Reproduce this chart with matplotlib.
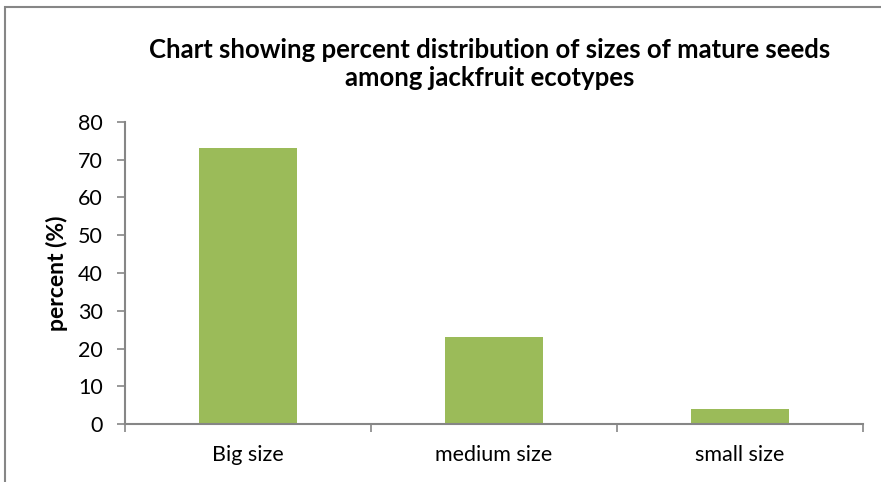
import matplotlib
matplotlib.use("Agg")
import matplotlib.pyplot as plt
from matplotlib.patches import Rectangle

categories = ["Big size", "medium size", "small size"]
percent = [73, 23, 4]
y_ticks = [0, 10, 20, 30, 40, 50, 60, 70, 80]

plt.rcParams["font.family"] = ["Lato", "DejaVu Sans"]
grey = "#868686"

fig = plt.figure(figsize=(8.81, 4.82), dpi=100)
ax = fig.add_axes([0.1419, 0.1203, 0.8377, 0.6266])

x = range(len(categories))
ax.bar(x, percent, width=0.4, color="#9BBB59")

ax.set_xlim(-0.5, len(categories) - 0.5)
ax.set_ylim(0, 80)
ax.set_yticks(y_ticks)
ax.set_xticks(list(x))
ax.set_xticklabels(categories, fontsize=15.5)
ax.set_xticks([-0.5, 0.5, 1.5, 2.5], minor=True)
ax.tick_params(axis="x", which="major", length=0, pad=15)
ax.tick_params(axis="x", which="minor", length=6, color=grey, width=1.2)
ax.tick_params(axis="y", length=6, color=grey, width=1.2, labelsize=15.5, pad=10)

for side in ["top", "right"]:
    ax.spines[side].set_visible(False)
for side in ["left", "bottom"]:
    ax.spines[side].set_color(grey)
    ax.spines[side].set_linewidth(1.5)

ax.set_ylabel("percent (%)", fontsize=16.5, fontweight="bold", labelpad=7)

fig.text(0.556, 0.867, "Chart showing percent distribution of sizes of mature seeds\namong jackfruit ecotypes",
         ha="center", va="center", fontsize=18.5, fontweight="bold", linespacing=1.2)

# outer chart border (only top and left show in the picture)
fig.patches.append(Rectangle((5 / 881, -0.1), 1.2, 1 - 7 / 482 + 0.1, transform=fig.transFigure,
                             fill=False, edgecolor=grey, linewidth=1.5))

fig.savefig("out.png", dpi=100)
